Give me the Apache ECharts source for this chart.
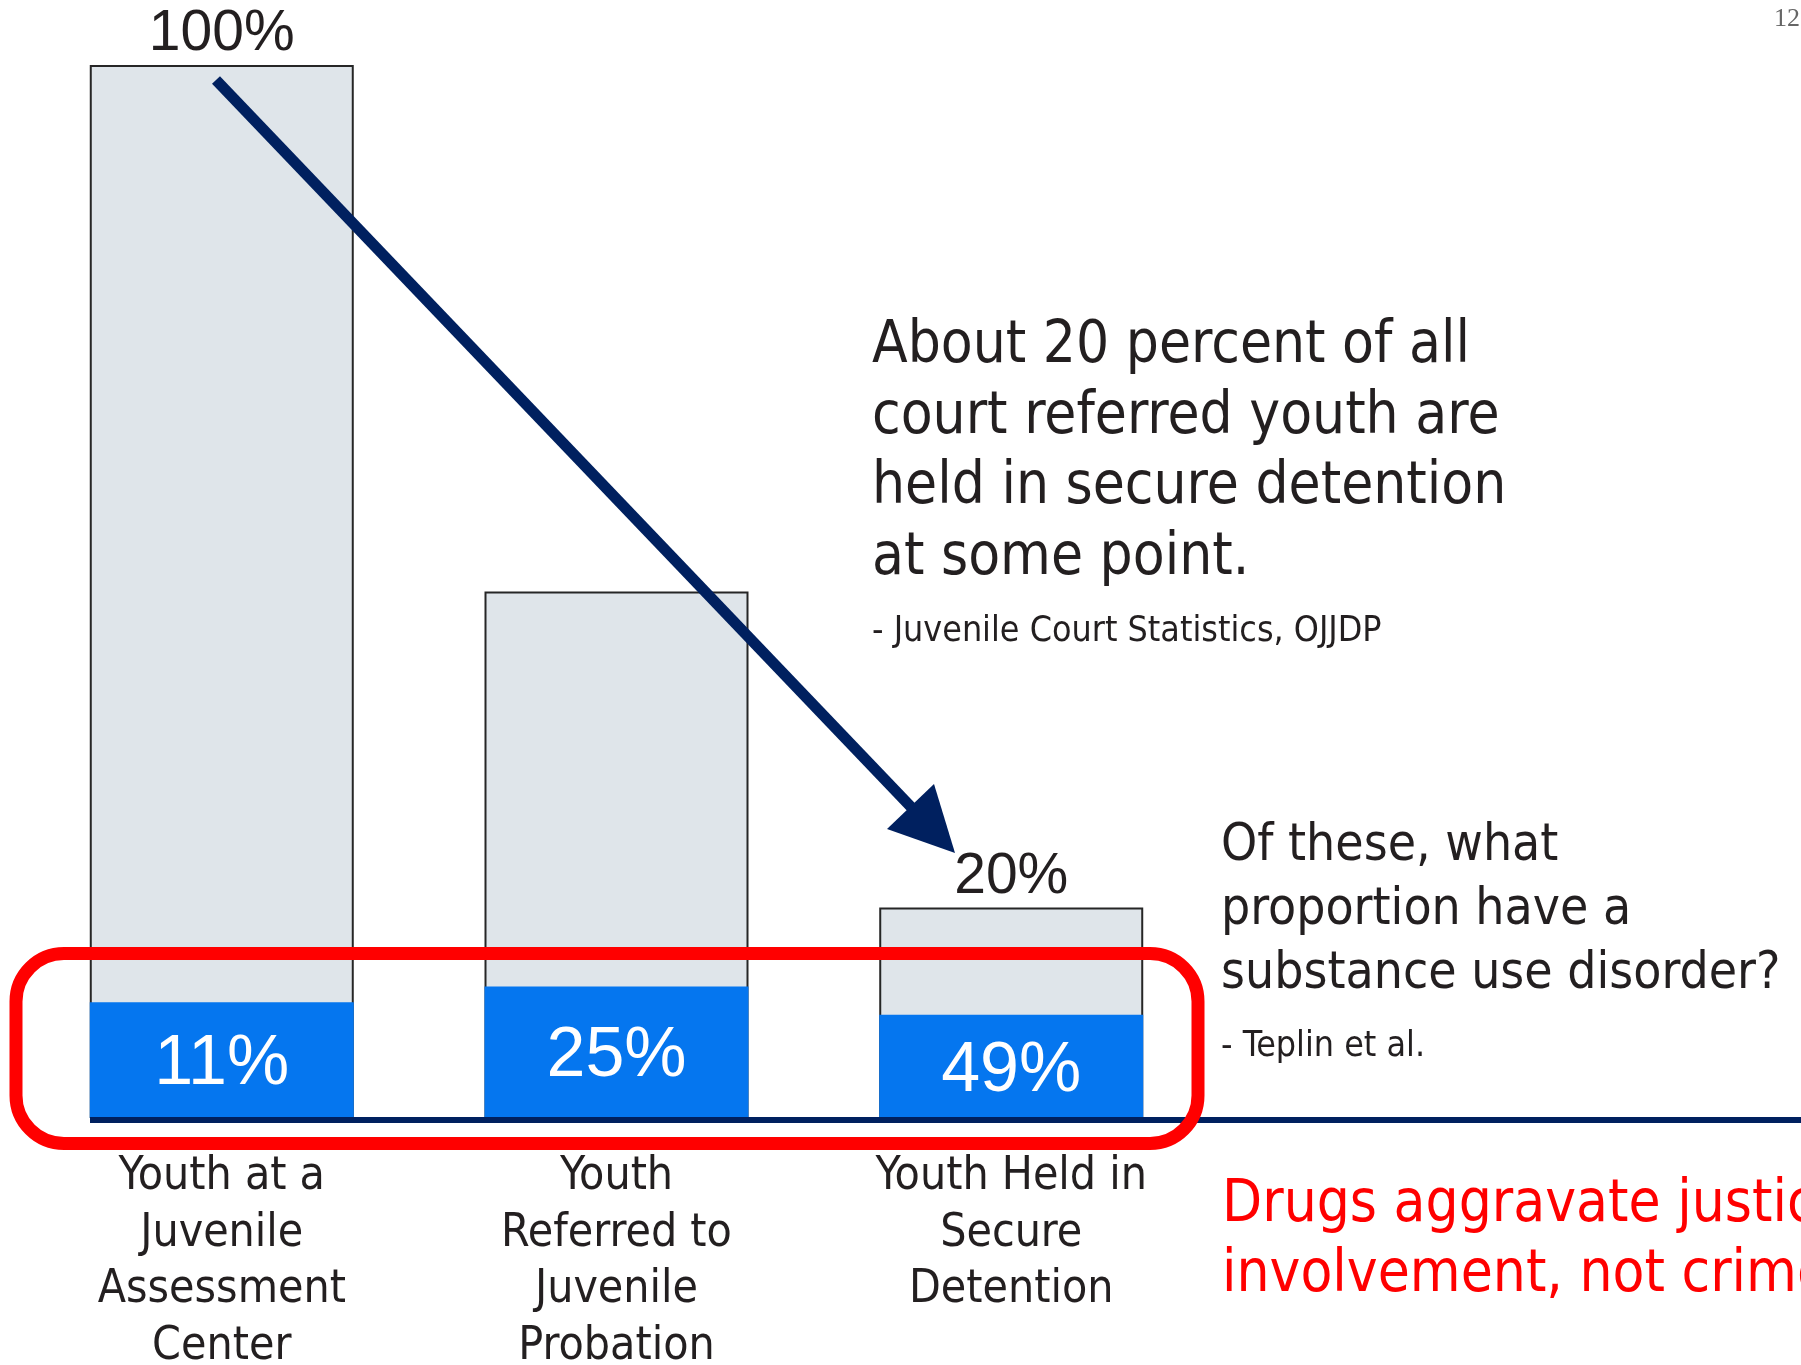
<!DOCTYPE html>
<html>
<head>
<meta charset="utf-8">
<script src="https://cdn.jsdelivr.net/npm/echarts@6/dist/echarts.min.js"></script>
<style>
html,body{margin:0;padding:0;background:#fff;}
#chart{width:1801px;height:1365px;}
</style>
</head>
<body>
<div id="chart"></div>
<script>
// ---- data ----
const categories = [
  'Youth at a\nJuvenile\nAssessment\nCenter',
  'Youth\nReferred to\nJuvenile\nProbation',
  'Youth Held in\nSecure\nDetention'
];
const totalPct = [100, 50, 20];          // share of youth at each stage
const totalLabelShown = [true, false, true];
const sudPct = [11, 25, 49];             // % with substance use disorder
const noteMain = 'About 20 percent of all\ncourt referred youth are\nheld in secure detention\nat some point.';
const noteMainSrc = '- Juvenile Court Statistics, OJJDP';
const noteSud = 'Of these, what\nproportion have a\nsubstance use disorder?';
const noteSudSrc = '- Teplin et al.';
const noteRed = 'Drugs aggravate justice\ninvolvement, not crime';
const pageNum = '12';

const SANS = '"DejaVu Sans Condensed", "DejaVu Sans", sans-serif';
const ARIAL = '"Liberation Sans", Arial, sans-serif';
const NAVY = '#00205F';
const TXT = '#231F20';

const sudValues = totalPct.map((t, i) => t * sudPct[i] / 100);

const chart = echarts.init(document.getElementById('chart'), null, {renderer: 'canvas'});
chart.setOption({
  animation: false,
  backgroundColor: '#ffffff',
  grid: {left: 24.4, right: 592.4, top: 65, bottom: 247, containLabel: false, outerBoundsMode: 'none'},
  xAxis: {
    type: 'category',
    data: categories,
    axisLine: {show: false},
    axisTick: {show: false},
    axisLabel: {
      color: TXT, fontFamily: SANS, fontSize: 46, lineHeight: 56.5, margin: 31,
      interval: 0
    }
  },
  yAxis: {
    type: 'value', min: 0, max: 100,
    show: false, splitLine: {show: false}
  },
  series: [
    {
      name: 'All youth',
      type: 'bar',
      barWidth: 264,
      barGap: '-100%',
      z: 2,
      data: totalPct.map((v, i) => ({
        value: v,
        label: {show: totalLabelShown[i]}
      })),
      itemStyle: {color: '#DFE5EA', borderColor: '#262626', borderWidth: 2},
      label: {
        position: 'top', distance: 2,
        formatter: p => p.value + '%',
        color: TXT, fontFamily: ARIAL, fontSize: 57
      }
    },
    {
      name: 'Substance use disorder',
      type: 'bar',
      barWidth: 264,
      barGap: '-100%',
      z: 3,
      data: sudValues,
      itemStyle: {color: '#0576EF'},
      label: {
        show: true, position: 'inside', offset: [0, 5],
        formatter: p => sudPct[p.dataIndex] + '%',
        color: '#ffffff', fontFamily: ARIAL, fontSize: 70
      }
    }
  ],
  graphic: [
    // baseline
    {type: 'line', z: 10, shape: {x1: 90, y1: 1120, x2: 1801, y2: 1120},
     style: {stroke: NAVY, lineWidth: 6}},
    // arrow
    {type: 'line', z: 10, shape: {x1: 216, y1: 80, x2: 912, y2: 808},
     style: {stroke: NAVY, lineWidth: 11}},
    {type: 'polygon', z: 10, shape: {points: [[955, 853], [887, 829], [934, 784]]},
     style: {fill: NAVY}},
    // red highlight box
    {type: 'rect', z: 20, shape: {x: 16, y: 953.5, width: 1182, height: 190, r: 48},
     style: {fill: 'none', stroke: '#FF0000', lineWidth: 13}},
    // texts
    {type: 'text', z: 10, x: 872, y: 312, style: {text: noteMain, fill: TXT,
      font: '58px ' + SANS, lineHeight: 70.5, textVerticalAlign: 'top'}},
    {type: 'text', z: 10, x: 872, y: 612, style: {text: noteMainSrc, fill: TXT,
      font: '35.5px ' + SANS, lineHeight: 40, textVerticalAlign: 'top'}},
    {type: 'text', z: 10, x: 1221, y: 815, style: {text: noteSud, fill: TXT,
      font: '51.2px ' + SANS, lineHeight: 64, textVerticalAlign: 'top'}},
    {type: 'text', z: 10, x: 1221, y: 1027, style: {text: noteSudSrc, fill: TXT,
      font: '35.5px ' + SANS, lineHeight: 40, textVerticalAlign: 'top'}},
    {type: 'text', z: 10, x: 1222, y: 1171, style: {text: noteRed, fill: '#FF0000',
      font: '58px ' + SANS, lineHeight: 70, textVerticalAlign: 'top'}},
    {type: 'text', z: 10, x: 1800, y: 6, style: {text: pageNum, fill: '#666666',
      font: '26px "Liberation Serif", "DejaVu Serif", serif', textAlign: 'right', textVerticalAlign: 'top'}}
  ]
});
</script>
</body>
</html>
